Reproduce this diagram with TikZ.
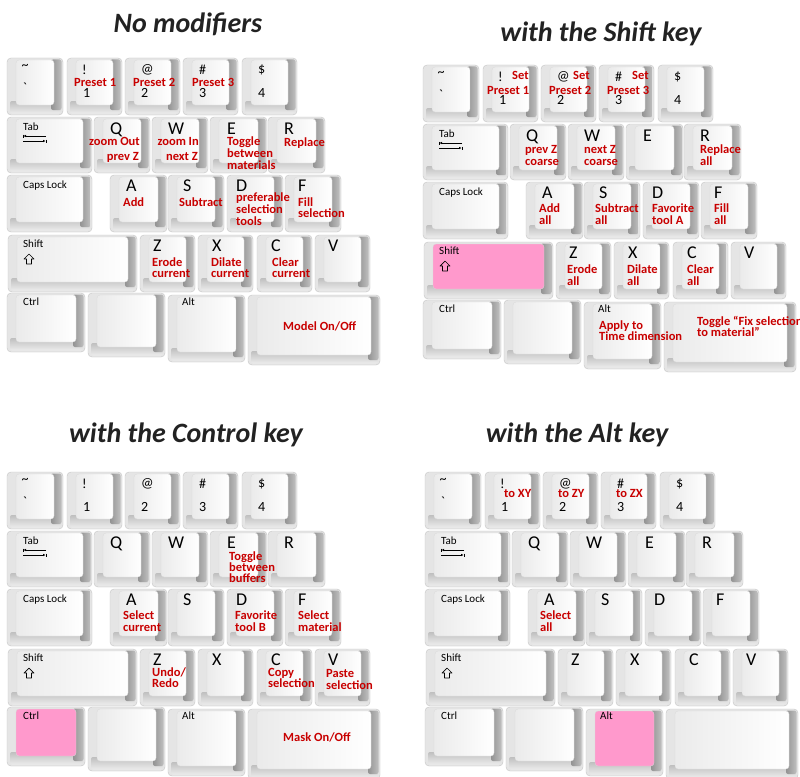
\documentclass[tikz,border=0pt]{standalone}
\usepackage{fontspec}
\setmainfont{Carlito}
\usetikzlibrary{arrows.meta}
\definecolor{lab}{RGB}{200,0,0}
\definecolor{hot}{RGB}{255,153,204}
\definecolor{ttl}{RGB}{34,34,34}
\tikzset{
 keybody/.style={draw=gray!45, line width=0.4pt, rounded corners=4pt, fill=gray!20, inner sep=0pt, outer sep=0pt},
 rbevel/.style={rounded corners=2pt, left color=gray!85, right color=gray!50},
 bbevel/.style={rounded corners=2pt, top color=gray!50, bottom color=gray!15},
 keyface/.style={rounded corners=3pt, left color=gray!16, right color=white, draw=gray!30, line width=0.3pt},
 hotface/.style={rounded corners=3pt, fill=hot, draw=gray!30, line width=0.3pt},
 lbl/.style={font=\fontsize{12.5}{12}\selectfont\bfseries, text=lab, anchor=west, inner sep=0pt, text height=8.5pt, text depth=2.5pt},
 big/.style={font=\fontsize{18}{18}\selectfont, anchor=base west, inner sep=0pt},
 dig/.style={font=\fontsize{14}{14}\selectfont, anchor=west, inner sep=0pt},
 small/.style={font=\fontsize{11}{11}\selectfont, anchor=west, inner sep=0pt},
 ttlstyle/.style={font=\fontsize{28}{28}\selectfont\bfseries\itshape, text=ttl, anchor=base, inner sep=0pt},
 thinline/.style={line width=0.6pt},
}
\newcommand\kcap[6]{%
 \node[keybody, minimum width=#4pt, minimum height=#5pt, anchor=north west] (#1) at (#2,#3) {};
 \path[bbevel] ([xshift=3pt, yshift=14pt]#1.south west) rectangle ([xshift=-2pt, yshift=1.5pt]#1.south east);
 \path[rbevel] ([xshift=-12pt, yshift=-1.5pt]#1.north east) rectangle ([xshift=-1.5pt, yshift=5pt]#1.south east);
 \path[#6] ([xshift=9pt, yshift=-2pt]#1.north west) rectangle ([xshift=-9pt, yshift=10pt]#1.south east);
}
\newcommand\kbd[4]{%
 \kcap{#1-tilde}{7}{58}{56}{57}{keyface}
 \kcap{#1-k1}{67}{58}{55}{57}{keyface}
 \kcap{#1-k2}{125}{58}{55}{57}{keyface}
 \kcap{#1-k3}{183}{58}{55}{57}{keyface}
 \kcap{#1-k4}{242}{58}{55}{57}{keyface}
 \kcap{#1-tab}{7}{117}{85}{56}{keyface}
 \kcap{#1-q}{94}{117}{56}{56}{keyface}
 \kcap{#1-w}{152}{117}{56}{56}{keyface}
 \kcap{#1-e}{210}{117}{57}{56}{keyface}
 \kcap{#1-r}{268}{117}{57}{56}{keyface}
 \kcap{#1-caps}{7}{175}{85}{57}{keyface}
 \kcap{#1-a}{110}{175}{57}{57}{keyface}
 \kcap{#1-s}{168}{175}{56}{57}{keyface}
 \kcap{#1-d}{227}{175}{56}{57}{keyface}
 \kcap{#1-f}{285}{175}{56}{57}{keyface}
 \kcap{#1-shift}{8}{235}{129}{57}{#2}
 \kcap{#1-z}{140}{235}{55}{57}{keyface}
 \kcap{#1-x}{198}{235}{55}{57}{keyface}
 \kcap{#1-c}{257}{235}{55}{57}{keyface}
 \kcap{#1-v}{315}{235}{55}{57}{keyface}
 \kcap{#1-ctrl}{7}{293}{78}{59}{#3}
 \kcap{#1-blank}{88}{293}{77}{64}{keyface}
 \kcap{#1-alt}{168}{295}{77}{67}{#4}
 \kcap{#1-space}{248}{295}{132}{70}{keyface}
 % legends
 \node[dig, anchor=center] (#1-tl) at (25,67) {\textasciitilde};
 \node[dig, anchor=center] (#1-gr) at (25,88) {\textasciigrave};
 \node[dig] (#1-s1) at (82,70) {!};
 \node[dig] (#1-d1) at (83,93) {1};
 \node[dig] (#1-s2) at (141,70) {@};
 \node[dig] (#1-d2) at (141,93) {2};
 \node[dig] (#1-s3) at (199,70) {\#};
 \node[dig] (#1-d3) at (199,93) {3};
 \node[dig] (#1-s4) at (258,70) {\$};
 \node[dig] (#1-d4) at (258,93) {4};
 \node[small] (#1-tabl) at (23,127) {Tab};
 \draw[thinline] (23,134.5) -- (23,137.5);
 \draw[thinline, -{Latex[length=2.5pt,width=2.5pt]}] (46,136) -- (23.5,136);
 \draw[thinline] (46,139.5) -- (46,142.5);
 \draw[thinline, -{Latex[length=2.5pt,width=2.5pt]}] (23,141) -- (45.5,141);
 \node[big] (#1-ql) at (110,134) {Q};
 \node[big] (#1-wl) at (168,134) {W};
 \node[big] (#1-el) at (227,134) {E};
 \node[big] (#1-rl) at (284,134) {R};
 \node[small] (#1-capsl) at (23,186) {Caps Lock};
 \node[big] (#1-al) at (126,191) {A};
 \node[big] (#1-sl) at (183,191) {S};
 \node[big] (#1-dl) at (236,191) {D};
 \node[big] (#1-fl) at (298,191) {F};
 \node[small] (#1-shiftl) at (23,244) {Shift};
 \draw[line width=0.7pt, line join=round] (29,254) -- (34,259) -- (31.5,259) -- (31.5,264) -- (26.5,264) -- (26.5,259) -- (24,259) -- cycle;
 \node[big] (#1-zl) at (153,251) {Z};
 \node[big] (#1-xl) at (212,251) {X};
 \node[big] (#1-cl) at (271,251) {C};
 \node[big] (#1-vl) at (328,251) {V};
 \node[small] (#1-ctrll) at (23,302) {Ctrl};
 \node[small] (#1-altl) at (182,302) {Alt};
}
\begin{document}
\begin{tikzpicture}[x=1pt, y=-1pt]
\useasboundingbox[fill=white] (0,0) rectangle (800,776);
\node[ttlstyle] (t1) at (188,33) {No modifiers};
\node[ttlstyle] (t2) at (601,42) {with the Shift key};
\node[ttlstyle] (t3) at (186,442) {with the Control key};
\node[ttlstyle] (t4) at (577,442) {with the Alt key};
% panel 1
\begin{scope}
\kbd{a}{keyface}{keyface}{keyface}
\node[lbl] (a-l1) at (74,83) {Preset 1};
\node[lbl] (a-l2) at (133,83) {Preset 2};
\node[lbl] (a-l3) at (192,83) {Preset 3};
\node[lbl, anchor=east] (a-q1) at (140,142) {zoom Out};
\node[lbl, anchor=east] (a-q2) at (139,157) {prev Z};
\node[lbl, anchor=east] (a-w1) at (199,142) {zoom In};
\node[lbl, anchor=east] (a-w2) at (198,157) {next Z};
\node[lbl] (a-e1) at (227,142) {Toggle};
\node[lbl] (a-e2) at (227,154) {between};
\node[lbl] (a-e3) at (227,166) {materials};
\node[lbl] (a-r1) at (284,143) {Replace};
\node[lbl] (a-a1) at (123,203) {Add};
\node[lbl] (a-s1l) at (179,203) {Subtract};
\node[lbl] (a-d1l) at (236,198) {preferable};
\node[lbl] (a-d2l) at (236,210) {selection};
\node[lbl] (a-d3l) at (236,222) {tools};
\node[lbl] (a-f1) at (298,203) {Fill};
\node[lbl] (a-f2) at (298,214) {selection};
\node[lbl] (a-z1) at (152,263) {Erode};
\node[lbl] (a-z2) at (152,274) {current};
\node[lbl] (a-x1) at (211,263) {Dilate};
\node[lbl] (a-x2) at (211,274) {current};
\node[lbl] (a-c1) at (272,263) {Clear};
\node[lbl] (a-c2) at (272,274) {current};
\node[lbl] (a-sp) at (283,327) {Model On/Off};
\end{scope}
% panel 2
\begin{scope}[shift={(416,7)}]
\kbd{b}{hotface}{keyface}{keyface}
\node[lbl] (b-t1) at (96,69) {Set};
\node[lbl] (b-t2) at (157,69) {Set};
\node[lbl] (b-t3) at (216,69) {Set};
\node[lbl] (b-l1) at (71,84) {Preset 1};
\node[lbl] (b-l2) at (133,84) {Preset 2};
\node[lbl] (b-l3) at (191,84) {Preset 3};
\node[lbl] (b-q1) at (109,143) {prev Z};
\node[lbl] (b-q2) at (109,155) {coarse};
\node[lbl] (b-w1) at (168,143) {next Z};
\node[lbl] (b-w2) at (168,155) {coarse};
\node[lbl] (b-r1) at (284,143) {Replace};
\node[lbl] (b-r2) at (284,155) {all};
\node[lbl] (b-a1) at (123,202) {Add};
\node[lbl] (b-a2) at (123,214) {all};
\node[lbl] (b-s1l) at (179,202) {Subtract};
\node[lbl] (b-s2l) at (179,214) {all};
\node[lbl] (b-d1l) at (236,202) {Favorite};
\node[lbl] (b-d2l) at (236,214) {tool A};
\node[lbl] (b-f1) at (298,202) {Fill};
\node[lbl] (b-f2) at (298,214) {all};
\node[lbl] (b-z1) at (151,263) {Erode};
\node[lbl] (b-z2) at (151,275) {all};
\node[lbl] (b-x1) at (211,263) {Dilate};
\node[lbl] (b-x2) at (211,275) {all};
\node[lbl] (b-c1) at (271,263) {Clear};
\node[lbl] (b-c2) at (271,275) {all};
\node[lbl] (b-al1) at (183,319) {Apply to};
\node[lbl] (b-al2) at (183,330) {Time dimension};
\node[lbl] (b-sp1) at (281,315) {Toggle “Fix selection};
\node[lbl] (b-sp2) at (281,326) {to material”};
\end{scope}
% panel 3
\begin{scope}[shift={(0,414)}]
\kbd{c}{keyface}{hotface}{keyface}
\node[lbl] (c-e1) at (229,143) {Toggle};
\node[lbl] (c-e2) at (229,154) {between};
\node[lbl] (c-e3) at (229,165) {buffers};
\node[lbl] (c-a1) at (123,202) {Select};
\node[lbl] (c-a2) at (123,214) {current};
\node[lbl] (c-d1l) at (235,202) {Favorite};
\node[lbl] (c-d2l) at (235,214) {tool B};
\node[lbl] (c-f1) at (298,202) {Select};
\node[lbl] (c-f2) at (298,214) {material};
\node[lbl] (c-z1) at (152,259) {Undo/};
\node[lbl] (c-z2) at (152,270) {Redo};
\node[lbl] (c-c1) at (268,259) {Copy};
\node[lbl] (c-c2) at (268,270) {selection};
\node[lbl] (c-v1) at (326,260) {Paste};
\node[lbl] (c-v2) at (326,272) {selection};
\node[lbl] (c-sp) at (283,324) {Mask On/Off};
\end{scope}
% panel 4
\begin{scope}[shift={(418,414)}]
\kbd{d}{keyface}{keyface}{hotface}
\node[lbl] (d-l1) at (86,80) {to XY};
\node[lbl] (d-l2) at (140,80) {to ZY};
\node[lbl] (d-l3) at (198,80) {to ZX};
\node[lbl] (d-a1) at (122,202) {Select};
\node[lbl] (d-a2) at (122,214) {all};
\end{scope}
\end{tikzpicture}
\end{document}
